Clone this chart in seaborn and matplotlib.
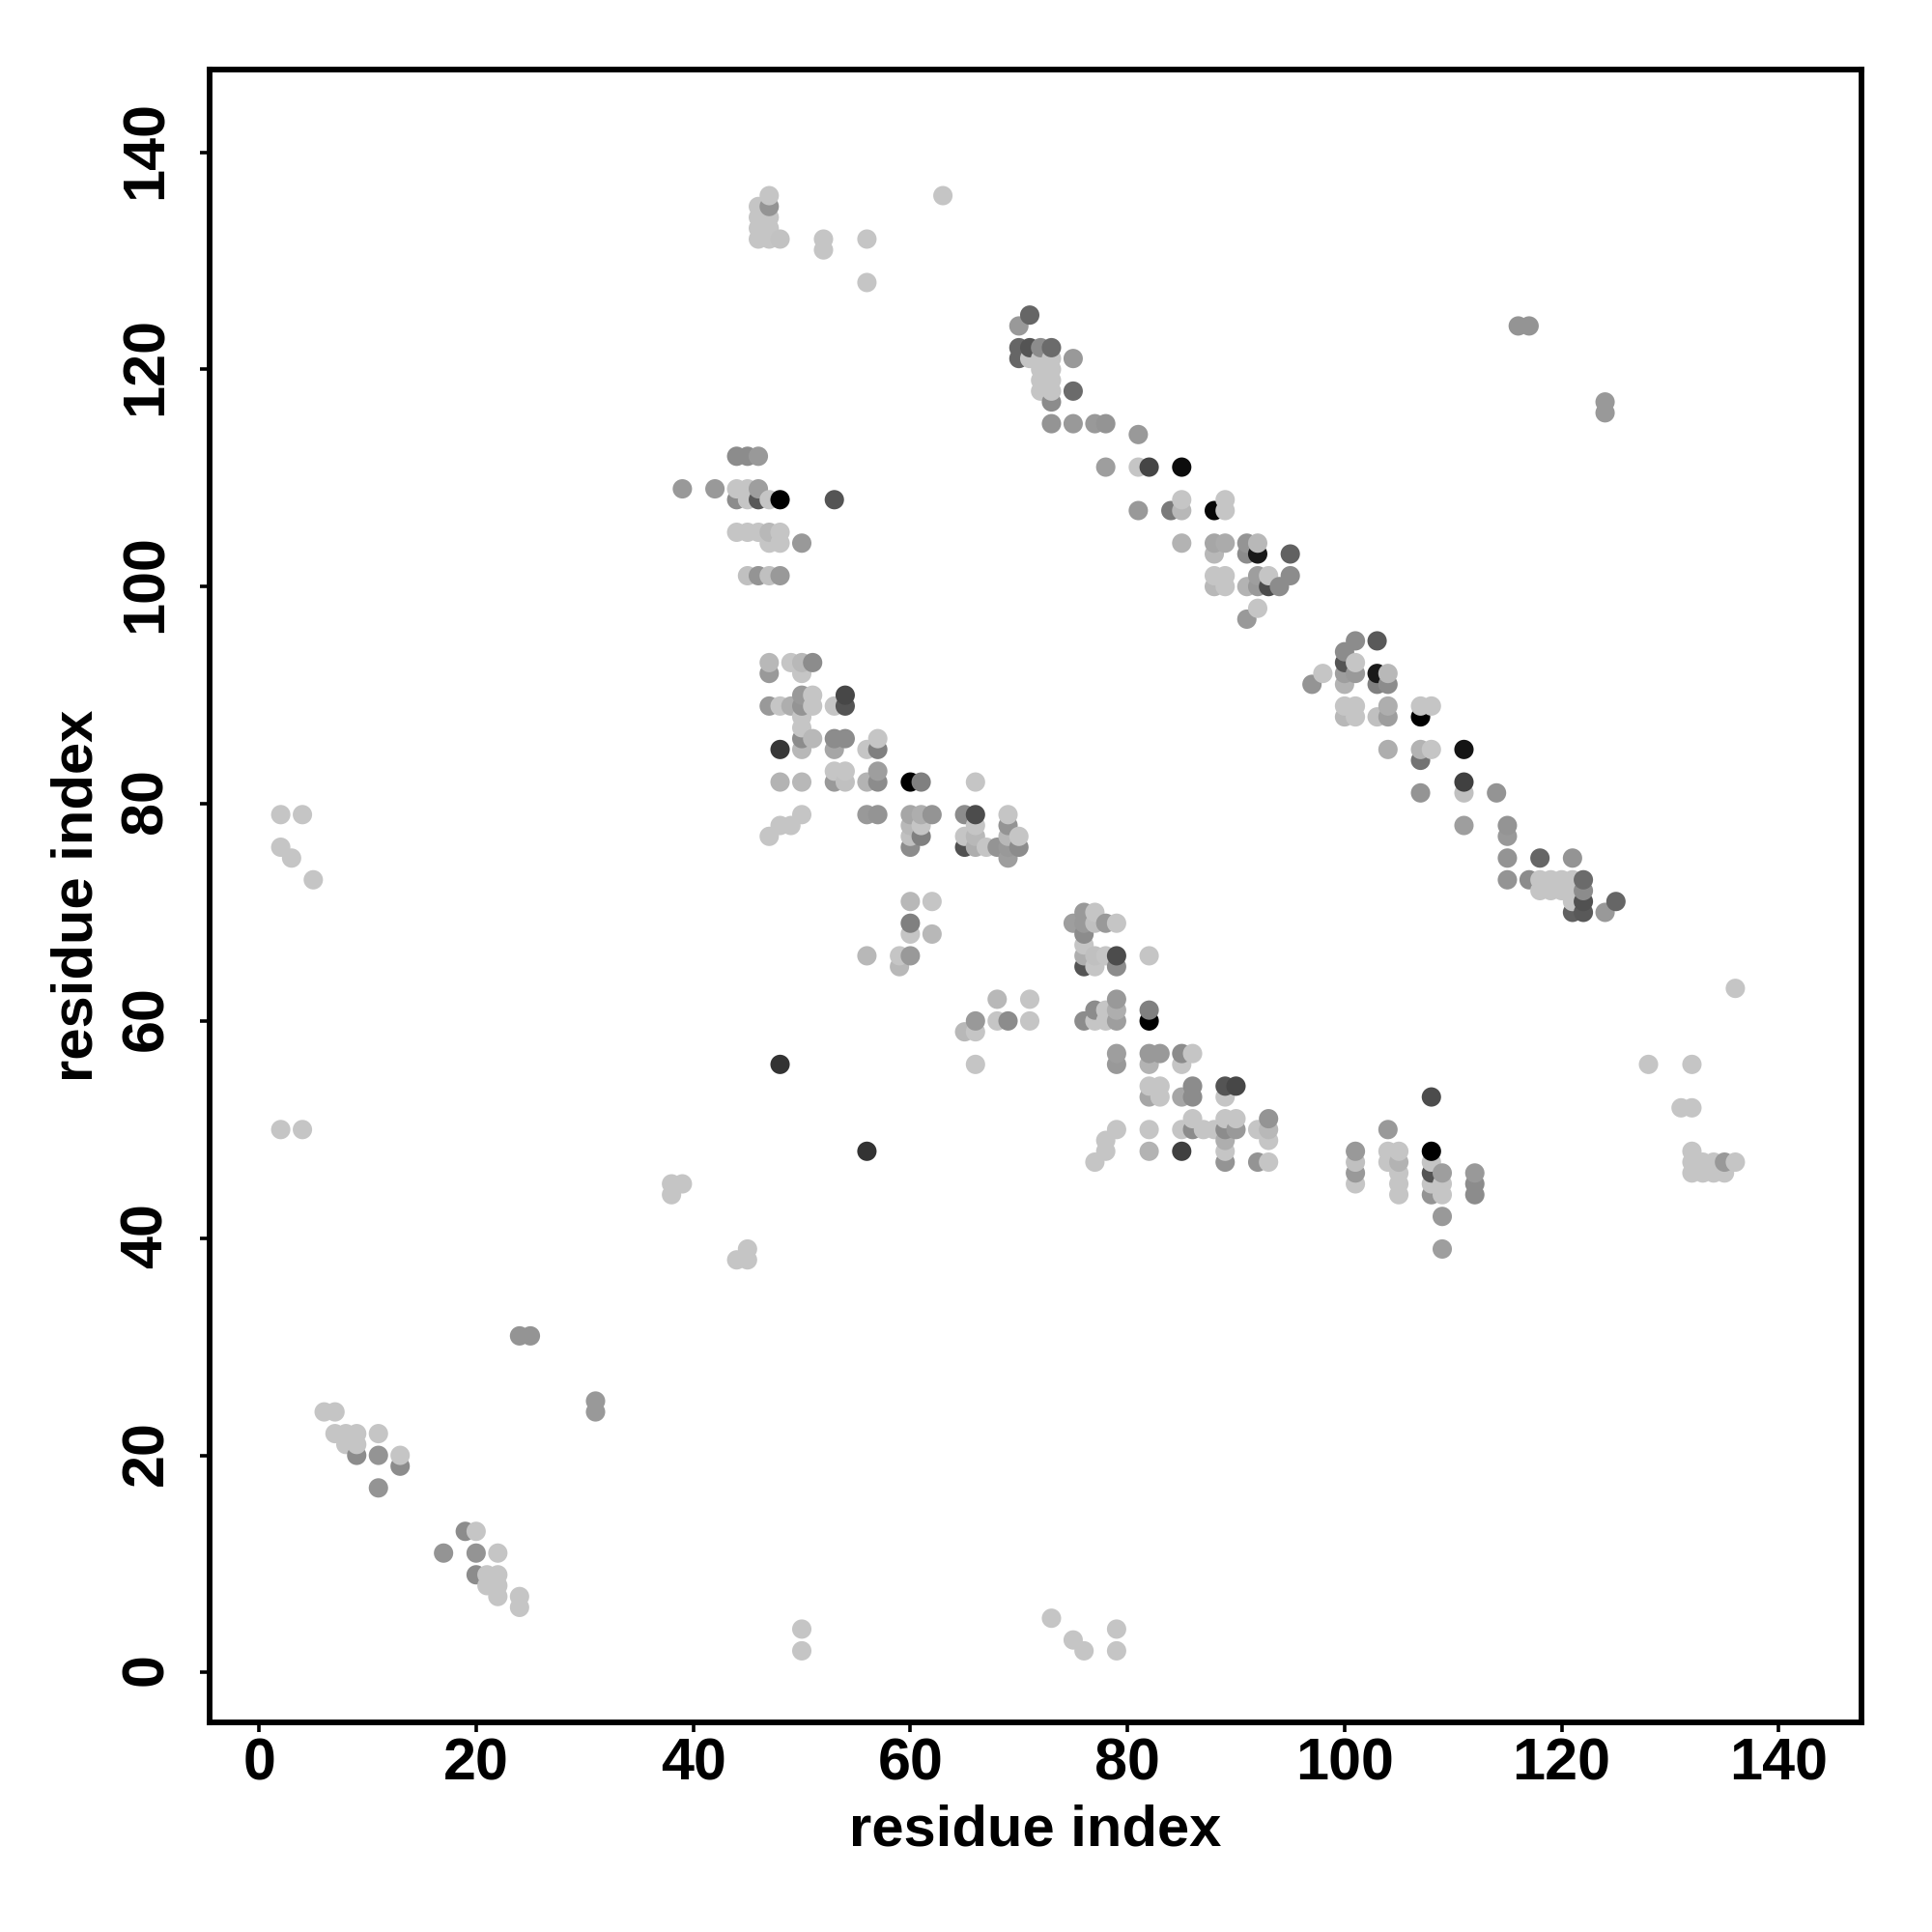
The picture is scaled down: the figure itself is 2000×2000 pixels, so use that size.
import pandas as pd
import matplotlib
matplotlib.use('Agg')
import matplotlib.pyplot as plt
from matplotlib.transforms import ScaledTranslation
import seaborn as sns

L = 0.77  # the light gray used for most contacts

row_y = [136, 135, 134, 133, 132, 131, 128, 125, 124, 122, 121, 120, 119, 118, 117, 116, 115, 114, 112, 111,
         109, 108, 107, 105, 104, 103, 101, 100, 98, 97, 95, 94, 93, 92, 91, 90, 89, 88, 87, 86, 85, 84, 83, 82, 81,
         79, 78, 77, 76, 75, 73, 72, 71, 70, 69, 68, 67, 66, 65, 63, 62, 61, 60, 59, 57, 56, 54, 53, 52, 51, 50,
         49, 48, 47, 46, 45, 44, 42, 39, 38, 31, 25, 24, 22, 21, 20, 19, 17, 13, 11, 9, 8, 7, 6, 5, 4, 3, 2]

row_x = [
    [47, 63], [46, 47], [46, 47], [46, 47], [46, 47, 48, 52, 56], [52], [56], [71], [70, 116, 117],
    [70, 71, 72, 73], [70, 71, 72, 73, 75], [72, 73], [72, 73], [72, 73, 75], [73, 124], [124],
    [73, 75, 77, 78], [81], [44, 45, 46], [78, 81, 82, 85],
    [39, 42, 44, 45, 46], [44, 45, 46, 47, 48, 53, 85, 89], [81, 84, 85, 88, 89],
    [44, 45, 46, 47, 48], [47, 48, 50, 85, 88, 89, 91, 92], [88, 91, 92, 95],
    [45, 46, 47, 48, 88, 89, 92, 93, 95], [88, 89, 91, 92, 93, 94], [92], [91], [101, 103], [100],
    [47, 49, 50, 51, 100, 101], [47, 50, 98, 100, 101, 103, 104], [97, 100, 103, 104], [50, 51, 54],
    [47, 48, 49, 50, 51, 53, 54, 100, 101, 104, 107, 108], [50, 100, 101, 103, 104, 107], [50],
    [50, 51, 53, 54, 57], [48, 50, 53, 56, 57, 104, 107, 108, 111], [107], [53, 54, 57],
    [48, 50, 53, 54, 56, 57, 60, 61, 66, 111], [107, 111, 114],
    [2, 4, 50, 56, 57, 60, 61, 62, 65, 66, 69], [48, 49, 60, 61, 66, 69, 111, 115],
    [47, 60, 61, 65, 66, 69, 70, 115], [2, 60, 65, 66, 67, 68, 69, 70], [3, 69, 115, 118, 121],
    [5, 115, 117, 118, 119, 120, 121, 122], [118, 119, 120, 121, 122], [60, 62, 121, 122, 125],
    [76, 77, 121, 122, 124], [60, 75, 76, 77, 78, 79], [60, 62, 76], [76],
    [56, 59, 60, 76, 77, 78, 79, 82], [59, 76, 77, 79], [136], [68, 71, 79], [77, 78, 79, 82],
    [66, 68, 69, 71, 76, 77, 78, 79, 82], [65, 66], [79, 82, 83, 85, 86],
    [48, 66, 79, 82, 85, 128, 132], [82, 83, 86, 89, 90], [82, 83, 85, 86, 89, 108], [131, 132],
    [86, 89, 90, 93], [2, 4, 79, 82, 85, 86, 87, 88, 89, 90, 92, 93, 104], [78, 89, 93],
    [56, 78, 82, 85, 89, 101, 104, 105, 108, 132],
    [77, 89, 92, 93, 101, 104, 105, 108, 132, 133, 134, 135, 136],
    [101, 105, 108, 109, 112, 132, 133, 134, 135], [38, 39, 101, 105, 108, 109, 112],
    [38, 105, 108, 109, 112], [109], [45, 109], [44, 45], [24, 25], [31], [6, 7, 31], [7, 8, 9, 11], [8, 9],
    [9, 11, 13], [13], [11], [19, 20], [17, 20, 22], [20, 21, 22], [21, 22], [22, 24], [24], [73], [50, 79],
    [75], [50, 76, 79],
]

row_shade = [
    [L, L], [L, .58], [L, L], [L, L], [L, L, .76, L, L], [L], [L], [.4], [.6, .58, .58],
    [.4, .33, .55, .42], [.4, L, L, L, .6], [L, L], [L, L], [L, L, .42], [.55, .6], [.6],
    [.58, .6, .6, .58], [.6], [.55, .55, .6], [.62, L, .27, .05],
    [.6, .6, L, L, .62], [.55, L, .35, L, 0, .33, L, L], [.6, .48, .72, .03, L],
    [L, L, L, .72, L], [L, L, .6, .7, .65, .67, .58, .72], [.72, .55, .1, .38],
    [.75, .58, .75, .6, L, L, .62, L, .55], [.72, L, .7, .6, .3, .55], [L], [.6], [.55, .35], [.55],
    [.72, L, .72, .55, .33, L], [.6, L, L, .62, .6, .1, .72], [.58, .7, .5, .55], [.6, L, .28],
    [.6, L, .68, .58, L, L, .33, L, L, .68, L, L], [L, .72, L, .75, .62, 0], [L],
    [.55, .72, .55, .55, L], [.22, .72, .65, L, .5, .68, .7, L, .08], [.45], [L, L, .62],
    [.7, .72, .6, .75, .7, .55, 0, .5, L, .25], [.58, .75, .58],
    [L, L, L, .6, .58, .65, .68, .58, .55, .3, L], [L, L, .72, L, L, .58, .62, .58],
    [L, .75, .5, L, .72, .72, L, .6], [L, .55, .32, .68, L, .58, .6, .55], [L, .62, .58, .4, .58],
    [L, .58, .55, L, L, L, L, .42], [L, L, L, L, .55], [.72, L, L, .32, .4],
    [.6, L, .38, .35, .6], [.5, .62, .6, .75, .6, L], [L, .72, .55], [L],
    [.72, L, .6, .68, .75, L, .3, L], [.72, .33, L, .55], [L], [.72, L, .6], [.55, L, .68, .5],
    [.6, L, .55, L, .55, L, L, .62, 0], [.72, L], [.62, .6, .6, .55, L],
    [.2, L, .6, .7, L, L, L], [L, L, .55, .33, .28], [.65, L, .65, .55, L, .3], [L, L],
    [L, L, L, .58], [L, L, L, L, L, .55, L, L, .55, .6, L, .72, .6], [L, .68, L],
    [.2, L, .7, .25, L, .6, L, L, 0, L],
    [L, .58, .58, L, .75, L, .7, L, L, L, L, .6, L],
    [.6, L, .33, .62, .6, L, L, L, L], [L, L, L, L, L, L, .55],
    [L, L, .58, L, .55], [.6], [L, .62], [L, L], [.58, .58], [.6], [L, L, .6], [L, L, L, L], [L, L],
    [.55, .58, L], [.55], [.58], [.55, L], [.58, .58, L], [.55, L, L], [L, L], [L, L], [L], [L], [L, L],
    [L], [L, L, L],
]

tick_vals = [0, 20, 40, 60, 80, 100, 120, 140]

# flatten the rows into one table
xs, ys, shades = [], [], []
for y, row, sh in zip(row_y, row_x, row_shade):
    assert len(row) == len(sh), y
    xs += row
    ys += [y] * len(row)
    shades += sh
df = pd.DataFrame({'x': xs, 'y': ys, 'shade': shades}).sort_values(['x', 'y'])

sns.set_theme(style='white')
plt.rcParams['font.family'] = ['Liberation Sans', 'DejaVu Sans']
plt.rcParams['font.weight'] = 'bold'

fig = plt.figure(figsize=(10, 10), dpi=200)
ax = fig.add_axes([217 / 2000, 1 - 1783 / 2000, 1710 / 2000, 1711 / 2000])

sns.scatterplot(data=df, x='x', y='y', hue='shade', palette='gray', hue_norm=(0, 1),
                s=52, linewidth=0, legend=False, ax=ax)

ax.set_xlim(-4.55, 147.62)
ax.set_ylim(-4.59, 147.61)
ax.set_xticks(tick_vals)
ax.set_yticks(tick_vals)
ax.tick_params(axis='both', which='major', length=3.5, width=1.3, labelsize=22, color='black',
               labelcolor='black', bottom=True, left=True)
ax.tick_params(axis='x', pad=2)
ax.tick_params(axis='y', pad=9.5)
plt.setp(ax.get_yticklabels(), rotation=90, va='center')
for lab in ax.get_xticklabels() + ax.get_yticklabels():
    lab.set_fontweight('bold')
# rotated labels sit a little low, nudge them up
for lab in ax.get_yticklabels():
    lab.set_transform(lab.get_transform() + ScaledTranslation(0, 3 / 200, fig.dpi_scale_trans))

ax.set_xlabel('residue index', fontsize=21.5, fontweight='bold', color='black', labelpad=4.5)
ax.set_ylabel('residue index', fontsize=21.5, fontweight='bold', color='black', labelpad=6)

for side in ax.spines.values():
    side.set_visible(True)
    side.set_color('black')
    side.set_linewidth(2.1)

fig.savefig('out.png', dpi=200, facecolor='white')
